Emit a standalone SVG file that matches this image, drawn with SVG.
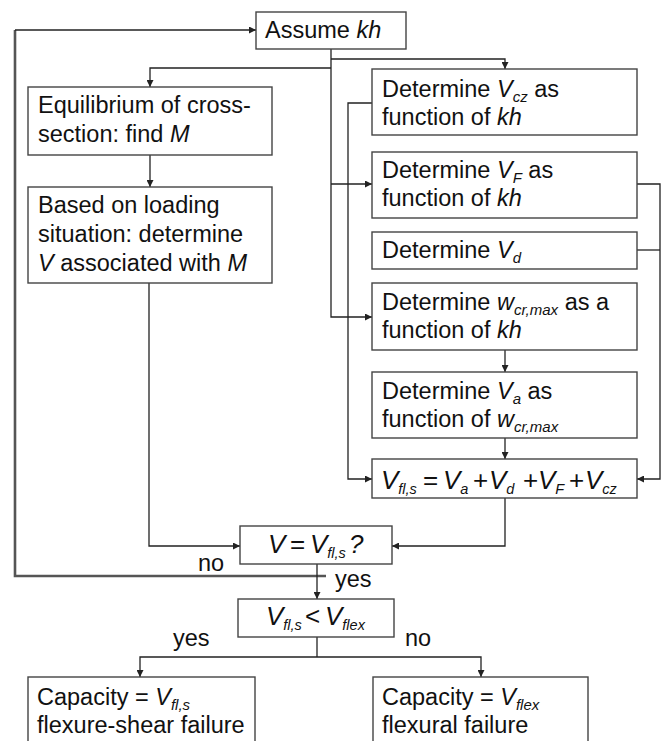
<svg xmlns="http://www.w3.org/2000/svg" width="667" height="741" viewBox="0 0 667 741">
<style>
.box{fill:#fff;stroke:#444;stroke-width:1.4}
.c{fill:none;stroke:#222;stroke-width:1.3}
.loop{fill:none;stroke:#555;stroke-width:2.6}
text{font-family:"Liberation Sans",Arial,sans-serif;font-size:23.5px;fill:#111}
.f{font-size:26px}
.i{font-style:italic}
.s{font-style:italic;font-size:15px}
.fs{font-style:italic;font-size:14.5px}
</style>
<defs>
<marker id="ah" viewBox="0 0 10 10" refX="10" refY="5" markerWidth="8" markerHeight="7" orient="auto" markerUnits="userSpaceOnUse"><path d="M0,0 L10,5 L0,10 z" fill="#222"/></marker>
</defs>
<rect width="667" height="741" fill="#fff"/>
<g id="connectors">
<path class="loop" d="M326,576 H15 V30"/>
<path class="c" d="M15,30 H256" marker-end="url(#ah)"/>
<path class="c" d="M331,49 V317 H372" marker-end="url(#ah)"/>
<path class="c" d="M331,59 H505 V69" marker-end="url(#ah)"/>
<path class="c" d="M331,68 H150 V87" marker-end="url(#ah)"/>
<path class="c" d="M331,184 H372" marker-end="url(#ah)"/>
<path class="c" d="M150,155 V187" marker-end="url(#ah)"/>
<path class="c" d="M372,103 H348 V479 H372" marker-end="url(#ah)"/>
<path class="c" d="M637,184 H660 V479 H637" marker-end="url(#ah)"/>
<path class="c" d="M637,250 H660"/>
<path class="c" d="M505,350 V372" marker-end="url(#ah)"/>
<path class="c" d="M505,438 V459" marker-end="url(#ah)"/>
<path class="c" d="M505,498 V546 H392" marker-end="url(#ah)"/>
<path class="c" d="M149,283 V546 H240" marker-end="url(#ah)"/>
<path class="c" d="M317,564 V599" marker-end="url(#ah)"/>
<path class="c" d="M317,637 V657"/>
<path class="c" d="M317,657 H140 V677" marker-end="url(#ah)"/>
<path class="c" d="M317,657 H481 V677" marker-end="url(#ah)"/>
<text x="198" y="571">no</text>
<text x="335" y="587">yes</text>
<text x="173" y="646">yes</text>
<text x="405" y="646">no</text>
</g>
<g id="assume"><rect class="box" x="256" y="12" width="150" height="37"/><text x="265" y="38">Assume <tspan class="i">kh</tspan></text></g>
<g id="vcz"><rect class="box" x="372" y="69" width="265" height="66"/><text x="382" y="97">Determine <tspan class="i">V</tspan><tspan class="s" dy="5">cz</tspan><tspan dy="-5"> as</tspan></text><text x="382" y="125">function of <tspan class="i">kh</tspan></text></g>
<g id="equil"><rect class="box" x="28" y="87" width="244" height="68"/><text x="38" y="113">Equilibrium of cross-</text><text x="38" y="142">section: find <tspan class="i">M</tspan></text></g>
<g id="based"><rect class="box" x="28" y="187" width="244" height="96"/><text x="38" y="213">Based on loading</text><text x="38" y="242">situation: determine</text><text x="38" y="271"><tspan class="i">V</tspan> associated with <tspan class="i">M</tspan></text></g>
<g id="vf"><rect class="box" x="372" y="152" width="265" height="66"/><text x="382" y="178">Determine <tspan class="i">V</tspan><tspan class="s" dy="5">F</tspan><tspan dy="-5"> as</tspan></text><text x="382" y="206">function of <tspan class="i">kh</tspan></text></g>
<g id="vd"><rect class="box" x="372" y="232" width="265" height="37"/><text x="382" y="258">Determine <tspan class="i">V</tspan><tspan class="s" dy="5">d</tspan></text></g>
<g id="wcr"><rect class="box" x="372" y="283" width="265" height="67"/><text x="382" y="310">Determine <tspan class="i">w</tspan><tspan class="s" dy="5">cr,max</tspan><tspan dy="-5"> as a</tspan></text><text x="382" y="338">function of <tspan class="i">kh</tspan></text></g>
<g id="va"><rect class="box" x="372" y="372" width="265" height="66"/><text x="382" y="399">Determine <tspan class="i">V</tspan><tspan class="s" dy="5">a</tspan><tspan dy="-5"> as</tspan></text><text x="382" y="427">function of <tspan class="i">w</tspan><tspan class="s" dy="5">cr,max</tspan></text></g>
<g id="vfls"><rect class="box" x="372" y="459" width="265" height="39"/><text class="f" y="489"><tspan x="381" class="i">V</tspan><tspan class="fs" dy="5">fl,s</tspan><tspan x="423" dy="-5">=</tspan><tspan x="443" class="i">V</tspan><tspan class="fs" dy="5">a</tspan><tspan x="473" dy="-5">+</tspan><tspan x="489" class="i">V</tspan><tspan class="fs" dy="5">d</tspan><tspan x="523" dy="-5">+</tspan><tspan x="538" class="i">V</tspan><tspan class="fs" dy="5">F</tspan><tspan x="569" dy="-5">+</tspan><tspan x="585" class="i">V</tspan><tspan class="fs" dy="5">cz</tspan></text></g>
<g id="check"><rect class="box" x="240" y="526" width="152" height="38"/><text class="f" y="553"><tspan x="268" class="i">V</tspan><tspan x="290">=</tspan><tspan x="310" class="i">V</tspan><tspan class="fs" dy="5">fl,s</tspan><tspan x="349" dy="-5" class="i">?</tspan></text></g>
<g id="compare"><rect class="box" x="238" y="599" width="156" height="38"/><text class="f" y="625"><tspan x="266" class="i">V</tspan><tspan class="fs" dy="5">fl,s</tspan><tspan x="305" dy="-5">&lt;</tspan><tspan x="325" class="i">V</tspan><tspan class="fs" dy="5">flex</tspan></text></g>
<g id="capL"><rect class="box" x="28" y="677" width="227" height="80"/><text x="37" y="705">Capacity = <tspan class="i">V</tspan><tspan class="s" dy="5">fl,s</tspan></text><text x="37" y="733">flexure-shear failure</text></g>
<g id="capR"><rect class="box" x="373" y="677" width="215" height="80"/><text x="382" y="705">Capacity = <tspan class="i">V</tspan><tspan class="s" dy="5">flex</tspan></text><text x="382" y="733">flexural failure</text></g>
</svg>
